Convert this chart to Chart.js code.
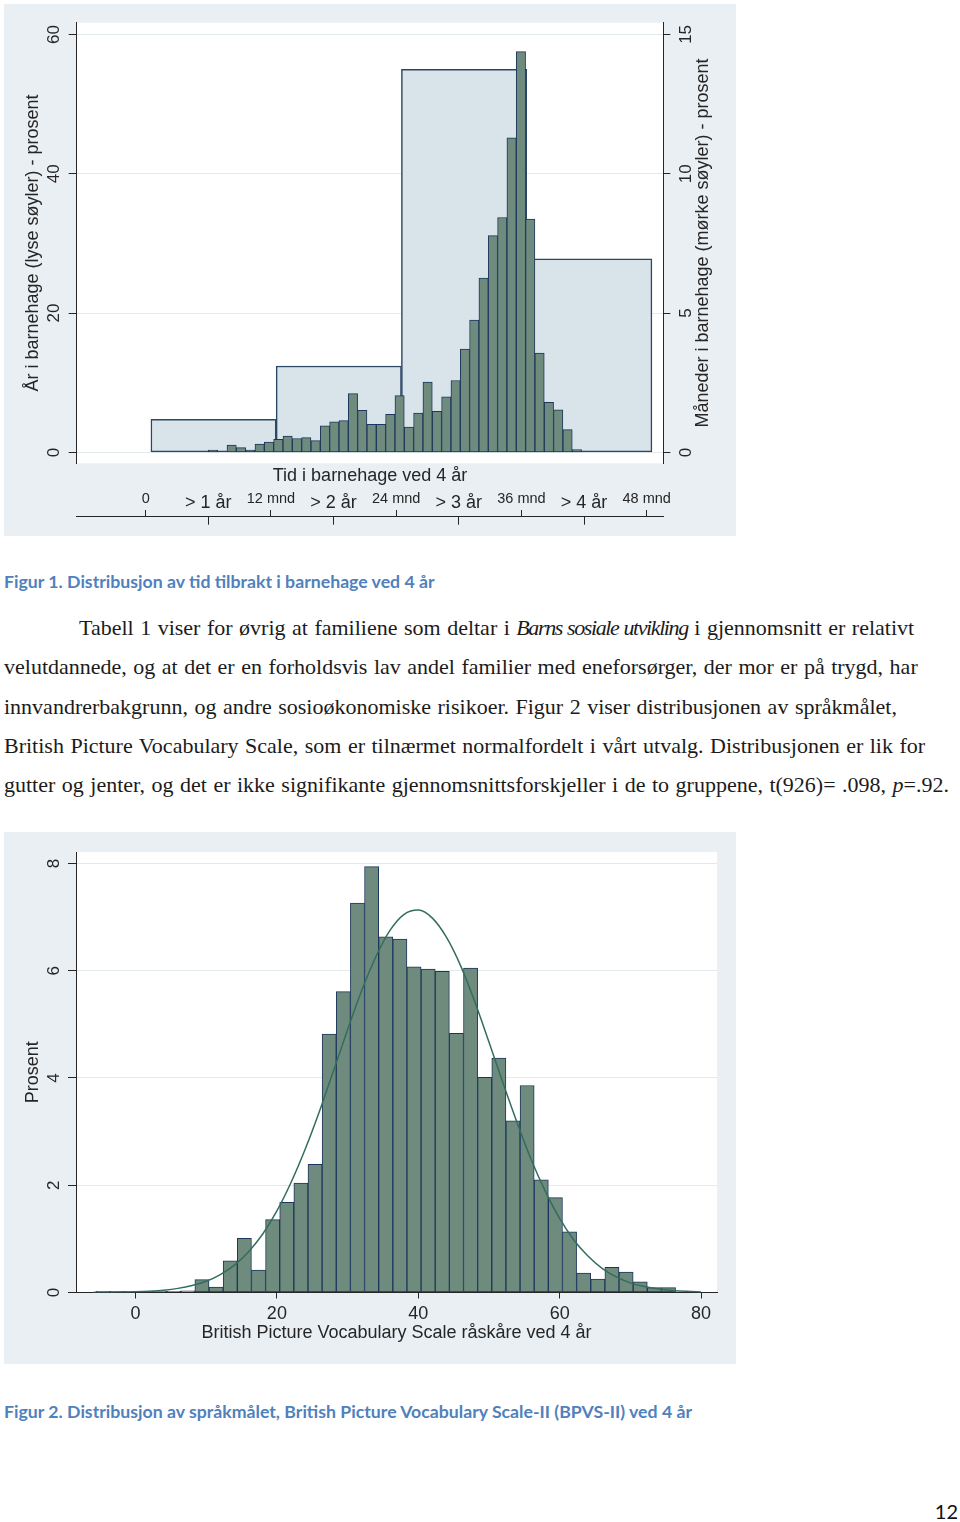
<!DOCTYPE html>
<html lang="no">
<head>
<meta charset="utf-8">
<title>Figur 1 og Figur 2</title>
<script src="https://cdn.jsdelivr.net/npm/chart.js@4.4.1/dist/chart.umd.min.js"></script>
<style>
  html, body { margin: 0; padding: 0; background: #ffffff; }
  body { position: relative; width: 960px; height: 1522px; overflow: hidden; }
  .panel { position: absolute; left: 4px; width: 732px; height: 532px; background: #e9eff3; }
  #panel1 { top: 4px; }
  #panel2 { top: 832px; }
  .panel canvas { position: absolute; left: 0; top: 0; }
  .caption {
    position: absolute; left: 4px; margin: 0;
    font-family: Lato, "Open Sans", sans-serif; font-weight: 700;
    font-size: 17.7px; line-height: 20px; color: #4f81bd; white-space: nowrap;
  }
  #cap1 { top: 572px; }
  #cap2 { top: 1402px; }
  #tekst {
    position: absolute; left: 4px; top: 608px;
    font-family: "Liberation Serif", "Times New Roman", serif;
    font-size: 22px; word-spacing: 1px; color: #1b1b1b;
  }
  .linje { height: 39.25px; line-height: 39.25px; white-space: nowrap; }
  .forste { padding-left: 75px; }
  .forste i { letter-spacing: -1.4px; }
  #side { position: absolute; right: 2px; top: 1499px; font-family: Lato, sans-serif; font-size: 20px; color: #111; }
</style>
</head>
<body>

<div class="panel" id="panel1"><canvas id="fig1" width="732" height="532"></canvas></div>
<p class="caption" id="cap1">Figur 1. Distribusjon av tid tilbrakt i barnehage ved 4 år</p>

<div id="tekst">
  <div class="linje forste">Tabell 1 viser for øvrig at familiene som deltar i <i>Barns sosiale utvikling</i> i gjennomsnitt er relativt</div>
  <div class="linje">velutdannede, og at det er en forholdsvis lav andel familier med eneforsørger, der mor er på trygd, har</div>
  <div class="linje">innvandrerbakgrunn, og andre sosioøkonomiske risikoer. Figur 2 viser distribusjonen av språkmålet,</div>
  <div class="linje">British Picture Vocabulary Scale, som er tilnærmet normalfordelt i vårt utvalg. Distribusjonen er lik for</div>
  <div class="linje">gutter og jenter, og det er ikke signifikante gjennomsnittsforskjeller i de to gruppene, t(926)= .098, <i>p</i>=.92.</div>
</div>

<div class="panel" id="panel2"><canvas id="fig2" width="732" height="532"></canvas></div>
<p class="caption" id="cap2">Figur 2. Distribusjon av språkmålet, British Picture Vocabulary Scale-II (BPVS-II) ved 4 år</p>

<div id="side">12</div>

<script>
//-----------------------------------------------------
// Figur 1 - tid i barnehage
//-----------------------------------------------------
const monthTicks = [0, 6, 12, 18, 24, 30, 36, 42, 48];
const monthTickLabels = ["0", "> 1 år", "12 mnd", "> 2 år", "24 mnd", "> 3 år", "36 mnd", "> 4 år", "48 mnd"];

// lyse søyler (år), midtpunkt i måneder
const yearBinCenters = [6.5, 18.5, 30.5, 42.5];
const yearPercent = [4.75, 12.4, 55.0, 27.8];

// mørke søyler (måneder)
const monthBinStart = 6.0;
const monthBinWidth = 0.894;
const monthPercent = [
  0.08, 0, 0.26, 0.17, 0.08, 0.30, 0.37, 0.47, 0.59, 0.50,
  0.53, 0.42, 0.95, 1.10, 1.14, 2.11, 1.51, 1.01, 1.01, 1.37,
  2.04, 0.91, 1.41, 2.52, 1.47, 1.99, 2.58, 3.71, 4.75, 6.26,
  7.78, 8.43, 11.29, 14.38, 8.37, 3.56, 1.80, 1.53, 0.82, 0.10
];

const leftTicks = [0, 20, 40, 60];
const rightTicks = [0, 5, 10, 15];

//-----------------------------------------------------
// Figur 2 - BPVS råskåre
//-----------------------------------------------------
const scoreBinStart = -5.6;
const scoreBinWidth = 2;
const scorePercent = [
  0.02, 0.02, 0.02, 0.02, 0.02, 0.02, 0.03, 0.24, 0.10, 0.59,
  1.01, 0.42, 1.36, 1.68, 2.04, 2.39, 4.82, 5.61, 7.26, 7.94,
  6.63, 6.59, 6.07, 6.03, 5.99, 4.83, 6.05, 4.01, 4.37, 3.20,
  3.86, 2.10, 1.77, 1.13, 0.36, 0.25, 0.47, 0.38, 0.20, 0.09,
  0.09
];

// normalfordelingskurven, lest av figuren
const curveScore = [
  -6, -4, -2, 0, 2, 4, 6, 8, 10, 12, 14, 16, 18, 20, 22, 24, 26, 28, 30, 32, 34, 36,
  38, 40, 42, 44, 46, 48, 50, 52, 54, 56, 58, 60, 62, 64, 66, 68, 70, 72, 74, 76, 78, 80
];
const curvePercent = [
  0.002, 0.004, 0.007, 0.013, 0.025, 0.044, 0.077, 0.13, 0.21, 0.335, 0.51, 0.76, 1.09, 1.52, 2.05, 2.67, 3.37, 4.13, 4.90, 5.63, 6.26, 6.75,
  7.05, 7.13, 6.98, 6.62, 6.09, 5.42, 4.67, 3.90, 3.16, 2.47, 1.88, 1.38, 0.98, 0.68, 0.45, 0.29, 0.18, 0.11, 0.066, 0.037, 0.021, 0.011
];

const scoreTicks = [0, 20, 40, 60, 80];
const percentTicks = [0, 2, 4, 6, 8];

//-----------------------------------------------------
// felles stil
//-----------------------------------------------------
const ink = "#262626";
const gridInk = "#e3eaee";
const sans = "'Liberation Sans', Arial, sans-serif";
const darkFill = "#6e8b7e";
const darkLine = "#1c375b";

Chart.defaults.font.family = sans;
Chart.defaults.color = ink;
Chart.defaults.animation = false;

const useTicks = (values) => (scale) => { scale.ticks = values.map((v) => ({ value: v })); };
const setWidth = (w) => (scale) => { scale.width = w; };
const setHeight = (h) => (scale) => { scale.height = h; };

// hvit plottflate
const plotBackground = {
  id: "plotBackground",
  beforeDraw(chart) {
    const { ctx, chartArea: a } = chart;
    ctx.save();
    ctx.fillStyle = "#ffffff";
    ctx.fillRect(a.left, a.top, a.width, a.height);
    ctx.restore();
  }
};

// tittel på høyre akse, lest nedenfra og opp
const rightTitle = {
  id: "rightTitle",
  afterDraw(chart, args, opts) {
    if (!opts || !opts.text) return;
    const { ctx, chartArea: a } = chart;
    ctx.save();
    ctx.translate(opts.x, (a.top + a.bottom) / 2);
    ctx.rotate(-Math.PI / 2);
    ctx.font = "18px " + sans;
    ctx.fillStyle = ink;
    ctx.textAlign = "center";
    ctx.textBaseline = "middle";
    ctx.fillText(opts.text, 0, 0);
    ctx.restore();
  }
};

//-----------------------------------------------------
// Figur 1
//-----------------------------------------------------
const fig1X = { min: -6.61, max: 49.59 };
const monthCenters = monthPercent.map((_, i) => monthBinStart + (i + 0.5) * monthBinWidth);

new Chart(document.getElementById("fig1"), {
  type: "bar",
  data: {
    datasets: [
      {
        label: "Måneder i barnehage",
        data: monthPercent.map((v, i) => ({ x: monthCenters[i], y: v })),
        xAxisID: "xMnd",
        yAxisID: "yR",
        backgroundColor: darkFill,
        borderColor: darkLine,
        borderWidth: 1,
        borderSkipped: false,
        grouped: false,
        barPercentage: 1,
        categoryPercentage: 1,
        order: 0
      },
      {
        label: "År i barnehage",
        data: yearPercent.map((v, i) => ({ x: yearBinCenters[i], y: v })),
        xAxisID: "xAar",
        yAxisID: "yL",
        backgroundColor: "#d9e3ea",
        borderColor: "#2a4866",
        borderWidth: 1.5,
        borderSkipped: false,
        grouped: false,
        barPercentage: 1,
        categoryPercentage: 1,
        order: 1
      }
    ]
  },
  options: {
    responsive: false,
    events: [],
    layout: { padding: { top: 18.7, bottom: 11.3, left: 0, right: 0 } },
    plugins: {
      legend: { display: false },
      tooltip: { enabled: false },
      rightTitle: { text: "Måneder i barnehage (mørke søyler) - prosent", x: 699 }
    },
    scales: {
      xMnd: { type: "linear", display: false, ...fig1X, offset: false, afterBuildTicks: useTicks(monthCenters) },
      xAar: { type: "linear", display: false, ...fig1X, offset: false, afterBuildTicks: useTicks(yearBinCenters) },
      xTittel: {
        type: "linear", position: "bottom", ...fig1X, offset: false,
        afterFit: setHeight(26.7),
        ticks: { display: false },
        grid: { display: false, drawTicks: false },
        border: { display: false },
        title: {
          display: true, text: "Tid i barnehage ved 4 år", color: ink,
          font: { family: sans, size: 18 }, padding: { top: 2, bottom: 3.1 }
        }
      },
      xEtiketter: {
        type: "linear", position: "bottom", ...fig1X, offset: false,
        afterBuildTicks: useTicks(monthTicks),
        afterFit: setHeight(26.7),
        ticks: {
          autoSkip: false, minRotation: 0, maxRotation: 0, padding: -26.7, color: ink,
          font: (c) => (c.index % 2
            ? { family: sans, size: 18, lineHeight: 1.483 }
            : { family: sans, size: 14.5, lineHeight: 1.214 }),
          callback: (v, i) => monthTickLabels[i]
        },
        grid: {
          drawOnChartArea: false, offset: false, tickLength: 26.7, tickWidth: 1,
          tickColor: (c) => (c.index % 2 ? "rgba(0,0,0,0)" : ink),
          tickBorderDash: [0, 20, 6.7, 100]
        },
        border: { display: false }
      },
      xLinje: {
        type: "linear", position: "bottom", ...fig1X, offset: false,
        afterBuildTicks: useTicks(monthTicks),
        afterFit: setHeight(8),
        ticks: { display: false },
        grid: {
          drawOnChartArea: false, offset: false, tickLength: 8, tickWidth: 1,
          tickColor: (c) => (c.index % 2 ? ink : "rgba(0,0,0,0)")
        },
        border: { display: true, color: ink, width: 1 }
      },
      yL: {
        type: "linear", position: "left", min: -1.565, max: 61.69,
        afterBuildTicks: useTicks(leftTicks),
        afterFit: setWidth(72.7),
        ticks: { minRotation: 90, maxRotation: 90, crossAlign: "center", padding: 5.2, color: ink, font: { size: 17 } },
        grid: { color: gridInk, lineWidth: 1, tickLength: 8, tickColor: ink, tickWidth: 1 },
        border: { display: true, color: ink, width: 1 },
        title: {
          display: true, text: "År i barnehage (lyse søyler) - prosent", color: ink,
          font: { size: 18 }, padding: { top: 18.7, bottom: 0 }
        }
      },
      yR: {
        type: "linear", position: "right", min: -0.391, max: 15.42,
        afterBuildTicks: useTicks(rightTicks),
        afterFit: setWidth(72.7),
        ticks: { minRotation: 90, maxRotation: 90, crossAlign: "center", padding: 6.2, color: ink, font: { size: 17 } },
        grid: { drawOnChartArea: false, tickLength: 7, tickColor: ink, tickWidth: 1 },
        border: { display: true, color: ink, width: 1 }
      }
    }
  },
  plugins: [plotBackground, rightTitle]
});

//-----------------------------------------------------
// Figur 2
//-----------------------------------------------------
new Chart(document.getElementById("fig2"), {
  type: "bar",
  data: {
    datasets: [
      {
        type: "line",
        label: "Normalfordeling",
        data: curveScore.map((x, i) => ({ x: x, y: curvePercent[i] })),
        borderColor: "#336d5e",
        borderWidth: 1.5,
        pointRadius: 0,
        fill: false,
        cubicInterpolationMode: "monotone",
        order: 0
      },
      {
        type: "bar",
        label: "Prosent",
        data: scorePercent.map((v, i) => ({ x: scoreBinStart + (i + 0.5) * scoreBinWidth, y: v })),
        backgroundColor: darkFill,
        borderColor: darkLine,
        borderWidth: 1,
        borderSkipped: false,
        barPercentage: 1,
        categoryPercentage: 1,
        order: 1
      }
    ]
  },
  options: {
    responsive: false,
    events: [],
    layout: { padding: { top: 20, bottom: 19.5, left: 0, right: 19 } },
    plugins: {
      legend: { display: false },
      tooltip: { enabled: false }
    },
    scales: {
      x: {
        type: "linear", position: "bottom", min: -8.417, max: 82.26, offset: false,
        afterBuildTicks: useTicks(scoreTicks),
        afterFit: setHeight(52),
        ticks: { autoSkip: false, minRotation: 0, maxRotation: 0, padding: 5.1, color: ink, font: { size: 18 } },
        grid: { drawOnChartArea: false, offset: false, tickLength: 6, tickColor: ink, tickWidth: 1 },
        border: { display: true, color: ink, width: 1 },
        title: {
          display: true, text: "British Picture Vocabulary Scale råskåre ved 4 år", color: ink,
          font: { size: 18 }, padding: { top: 0, bottom: 0.3 }
        }
      },
      y: {
        type: "linear", position: "left", min: 0, max: 8.2125,
        afterBuildTicks: useTicks(percentTicks),
        afterFit: setWidth(72),
        ticks: { minRotation: 90, maxRotation: 90, crossAlign: "center", padding: 9.3, color: ink, font: { size: 17 } },
        grid: { color: gridInk, lineWidth: 1, tickLength: 8, tickColor: ink, tickWidth: 1 },
        border: { display: true, color: ink, width: 1 },
        title: {
          display: true, text: "Prosent", color: ink,
          font: { size: 18 }, padding: { top: 18.7, bottom: 0 }
        }
      }
    }
  },
  plugins: [plotBackground]
});
</script>
</body>
</html>
